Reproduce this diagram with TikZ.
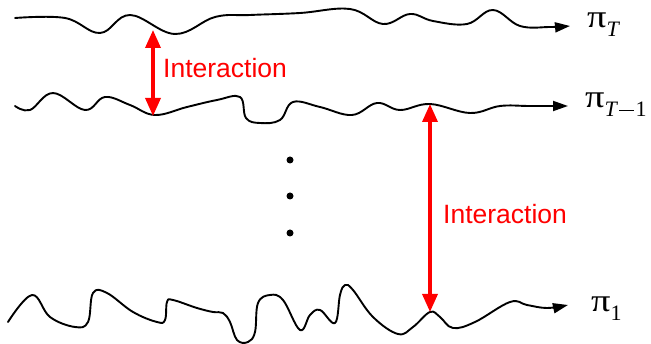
\documentclass[tikz,border=0pt]{standalone}
\usepackage{fontspec}
\setmainfont{Liberation Serif}
\newfontfamily\sansf{Liberation Sans}
\usetikzlibrary{arrows.meta}
\tikzset{
  wave/.style={line width=1.9pt, line cap=round, line join=round, -{Triangle[length=15pt,width=10pt]}},
  inter/.style={draw=red, line width=3.4pt, {Triangle[length=18pt,width=15pt]}-{Triangle[length=18pt,width=15pt]}},
  itext/.style={text=red, font=\sansf\fontsize{26.5}{26.5}\selectfont, inner sep=0pt, anchor=west},
  pilabel/.style={anchor=base west, inner sep=0pt, font=\fontsize{32}{32}\selectfont},
  vdot/.style={circle, fill=black, inner sep=0pt, minimum size=7pt}
}
\newcommand{\bigpi}{\scalebox{1.2}[1]{π}}
\newcommand{\subsc}[1]{\raisebox{-9pt}{\fontsize{22}{22}\selectfont #1}}
\newcommand{\longminus}{\hspace{1pt}\rule[5.5pt]{15pt}{1.6pt}\hspace{1.5pt}}
\begin{document}
\begin{tikzpicture}[x=1pt,y=-1pt]
\useasboundingbox (0,0) rectangle (651,344);
% top curve
\draw[wave] plot[smooth, tension=0.65] coordinates {(15,18) (65,18) (100,33) (130,15) (175,34) (215,17) (250,15) (300,13) (350,9) (383,24) (410,14) (433,21) (467,24) (493,10) (520,26) (550,27) (570,26)};
% second curve
\draw[wave] plot[smooth, tension=0.65] coordinates {(15,106) (30,110) (53,93) (85,110) (105,97) (130,105) (155,115) (187,107) (217,100) (240,97) (246,118) (260,123) (280,120) (293,102) (320,107) (352,115) (377,103) (400,110) (430,104) (470,113) (500,106) (530,106) (568,106)};
% bottom curve
\draw[wave] plot[smooth, tension=0.65] coordinates {(8,322) (32,295) (50,317) (75,327) (88,322) (93,293) (107,293) (133,312) (157,322) (165,320) (167,302) (173,300) (197,308) (213,312) (223,313) (230,322) (237,340) (248,342) (255,332) (258,303) (270,295) (283,300) (300,330) (310,315) (320,310) (335,323) (340,295) (345,285) (353,290) (373,317) (398,334) (413,327) (430,312) (440,317) (453,328) (475,322) (510,302) (527,305) (547,308) (568,305)};
% interaction arrows
\coordinate (a1) at (153,30);
\coordinate (b1) at (153,116);
\coordinate (a2) at (430,104);
\coordinate (b2) at (430,312);
\draw[inter] (a1) -- (b1);
\draw[inter] (a2) -- (b2);
\node[itext] (t1) at (163,68) {Interaction};
\node[itext] (t2) at (443,214) {Interaction};
% dots
\node[vdot] (d1) at (290,160) {};
\node[vdot] (d2) at (290,196) {};
\node[vdot] (d3) at (290,233) {};
% labels
\node[pilabel] (lT) at (587,28) {\bigpi\subsc{\textit{T}}};
\node[pilabel] (lT1) at (585,108) {\bigpi\subsc{\textit{T}\longminus 1}};
\node[pilabel] (l1) at (591,312) {\bigpi\subsc{1}};
\end{tikzpicture}
\end{document}
